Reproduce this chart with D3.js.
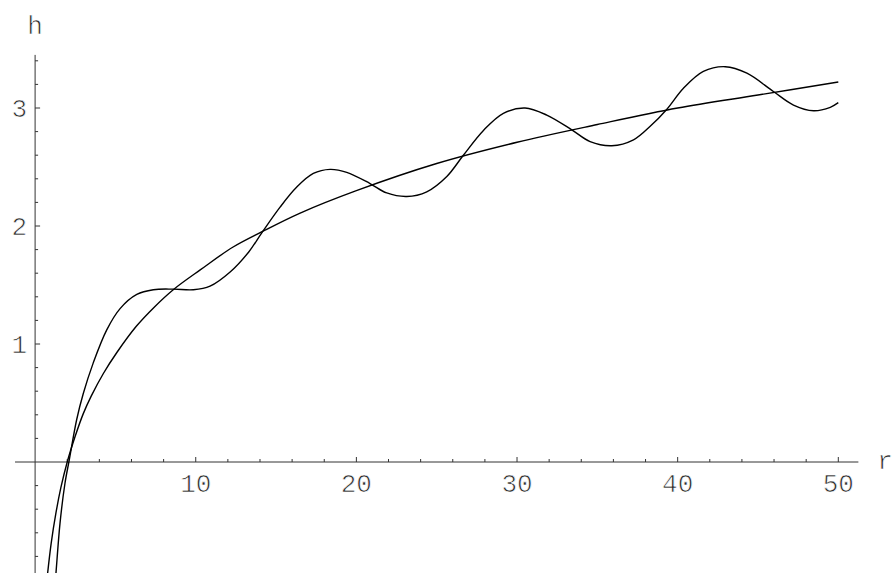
<!DOCTYPE html>
<html>
<head>
<meta charset="utf-8">
<script src="https://cdn.jsdelivr.net/npm/d3@7"></script>
<style>
  html, body { margin: 0; padding: 0; background: #fff; }
  svg { display: block; }
  text { font-family: "Liberation Mono", "DejaVu Sans Mono", monospace; fill: #2a2a2a; stroke: #fff; stroke-width: 0.7px; }
</style>
</head>
<body>
<svg id="chart" width="893" height="573"></svg>
<script>
// ---- data ----
const smoothR = [0.75, 1, 1.3, 1.6, 2, 2.5, 3, 3.5, 4.25, 5.1, 6.3, 7.4, 8.6, 10.3, 12.3, 14.1, 16.5, 20, 25, 30, 35, 40, 45, 50];
const smoothH = [-0.98, -0.69, -0.43, -0.22, 0, 0.22, 0.41, 0.56, 0.75, 0.93, 1.15, 1.31, 1.46, 1.63, 1.82, 1.95, 2.11, 2.30, 2.53, 2.71, 2.86, 3.00, 3.11, 3.22];

const waveR = [1.25, 1.30, 1.55, 1.86, 2.13, 2.59, 3.0, 3.62, 4.46, 5.29, 6.33, 7.36, 8.61, 9.85, 10.89, 12.14, 13.3, 14.1, 15.25, 16.29, 17.32, 18.36, 19.40, 20.85, 21.89, 23.14, 24.38, 25.63, 26.66, 27.91, 29.15, 30.5, 31.85, 33.41, 34.55, 35.9, 37.25, 38.29, 39.33, 40.36, 41.6, 42.96, 44.31, 45.96, 47.21, 48.46, 49.5, 50.0];
const waveH = [-1.02, -0.94, -0.52, -0.18, 0.02, 0.36, 0.58, 0.84, 1.12, 1.30, 1.42, 1.46, 1.465, 1.46, 1.49, 1.61, 1.78, 1.94, 2.16, 2.33, 2.445, 2.48, 2.455, 2.36, 2.28, 2.25, 2.29, 2.42, 2.60, 2.81, 2.955, 3.00, 2.94, 2.815, 2.715, 2.68, 2.73, 2.845, 2.99, 3.167, 3.31, 3.35, 3.295, 3.14, 3.025, 2.977, 3.006, 3.045];

const xMajorTicks = [10, 20, 30, 40, 50];
const xMinorTicks = [2, 4, 6, 8, 12, 14, 16, 18, 22, 24, 26, 28, 32, 34, 36, 38, 42, 44, 46, 48];
const yMajorTicks = [1, 2, 3];
const yMinorTicks = [-0.8, -0.6, -0.4, -0.2, 0.2, 0.4, 0.6, 0.8, 1.2, 1.4, 1.6, 1.8, 2.2, 2.4, 2.6, 2.8, 3.2, 3.4];
const xLabel = "r";
const yLabel = "h";

// ---- scales ----
const x = d3.scaleLinear().domain([0, 50]).range([35.1, 838.3]);
const y = d3.scaleLinear().domain([0, 3]).range([462, 108]);

const svg = d3.select("#chart");
const axisColor = "#333";

// x axis line
svg.append("line")
  .attr("x1", x(-1.25)).attr("x2", x(51.25))
  .attr("y1", y(0)).attr("y2", y(0))
  .attr("stroke", axisColor).attr("stroke-width", 1);
// y axis line
svg.append("line")
  .attr("x1", x(0)).attr("x2", x(0))
  .attr("y1", y(3.45)).attr("y2", y(-1.0))
  .attr("stroke", axisColor).attr("stroke-width", 1);

// x ticks (upward)
svg.selectAll(".xmaj").data(xMajorTicks).enter().append("line")
  .attr("x1", d => x(d)).attr("x2", d => x(d))
  .attr("y1", y(0)).attr("y2", y(0) - 5)
  .attr("stroke", axisColor).attr("stroke-width", 1);
svg.selectAll(".xmin").data(xMinorTicks).enter().append("line")
  .attr("x1", d => x(d)).attr("x2", d => x(d))
  .attr("y1", y(0)).attr("y2", y(0) - 3)
  .attr("stroke", axisColor).attr("stroke-width", 1);
svg.selectAll(".xlab").data(xMajorTicks).enter().append("text")
  .attr("x", d => x(d)).attr("y", y(0) + 30)
  .attr("text-anchor", "middle")
  .attr("font-size", 26)
  .text(d => d);

// y ticks (rightward)
svg.selectAll(".ymaj").data(yMajorTicks).enter().append("line")
  .attr("x1", x(0)).attr("x2", x(0) + 5)
  .attr("y1", d => y(d)).attr("y2", d => y(d))
  .attr("stroke", axisColor).attr("stroke-width", 1);
svg.selectAll(".ymin").data(yMinorTicks).enter().append("line")
  .attr("x1", x(0)).attr("x2", x(0) + 3)
  .attr("y1", d => y(d)).attr("y2", d => y(d))
  .attr("stroke", axisColor).attr("stroke-width", 1);
svg.selectAll(".ylab").data(yMajorTicks).enter().append("text")
  .attr("x", x(0) - 8).attr("y", d => y(d) + 9)
  .attr("text-anchor", "end")
  .attr("font-size", 26)
  .text(d => d);

// axis labels
svg.append("text").attr("x", x(0)).attr("y", 34)
  .attr("text-anchor", "middle").attr("font-size", 26).text(yLabel);
svg.append("text").attr("x", 885).attr("y", 469)
  .attr("text-anchor", "middle").attr("font-size", 26).text(xLabel);

// curves
const line = d3.line()
  .x(d => x(d[0])).y(d => y(d[1]))
  .curve(d3.curveCatmullRom.alpha(0.5));

const smooth = smoothR.map((r, i) => [r, smoothH[i]]);
const wave = waveR.map((r, i) => [r, waveH[i]]);

[smooth, wave].forEach(data => {
  svg.append("path")
    .datum(data)
    .attr("d", line)
    .attr("fill", "none")
    .attr("stroke", "#000")
    .attr("stroke-width", 1.4);
});
</script>
</body>
</html>
